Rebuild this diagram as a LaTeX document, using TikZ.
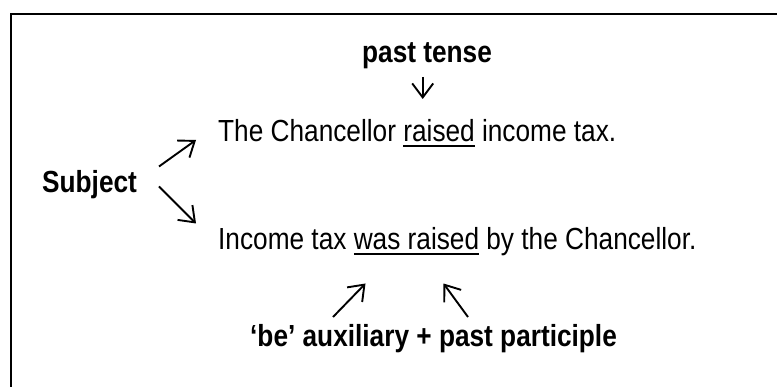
\documentclass[tikz,border=0pt]{standalone}
\usepackage{fontspec}
\setmainfont[FakeStretch=0.86]{Liberation Sans}
\usetikzlibrary{arrows.meta}
\newcommand\myul[1]{\setbox0\hbox{#1}\rlap{\rule[-5.2pt]{\wd0}{2.1pt}}\box0\relax}
\begin{document}
\begin{tikzpicture}[x=1pt,y=-1pt,
  txt/.style={inner sep=0pt,anchor=base west,font=\fontsize{30.5}{36}\selectfont},
  btxt/.style={txt,font=\fontsize{30.5}{36}\selectfont\bfseries},
  pointer/.style={line width=1.9pt,-{Straight Barb[length=14pt,width=21pt,line width=1.9pt]}}]
\useasboundingbox (0,0) rectangle (777,387);
\draw[line width=1.6pt] (10.7,387) -- (10.7,14) -- (777,14);
\node[btxt] (past) at (362,63) {past tense};
\node[btxt] (subj) at (42,193) {Subject};
\node[txt] (act) at (218,141.7) {The Chancellor \myul{raised} income tax.};
\node[txt] (pas) at (218,249.5) {Income tax \myul{was raised} by the Chancellor.};
\node[btxt] (aux) at (250,347) {‘be’ auxiliary + past participle};
\coordinate (p0) at (422.7,77);
\coordinate (p1) at (422.7,99);
\coordinate (s0) at (159,166.5);
\coordinate (s1) at (196,140);
\coordinate (t0) at (159,186.5);
\coordinate (t1) at (196,223.5);
\coordinate (a0) at (333,317);
\coordinate (a1) at (365.5,283.5);
\coordinate (b0) at (468,317);
\coordinate (b1) at (443.5,283.5);
\draw[pointer] (p0) -- (p1);
\draw[pointer] (s0) -- (s1);
\draw[pointer] (t0) -- (t1);
\draw[pointer] (a0) -- (a1);
\draw[pointer] (b0) -- (b1);
\end{tikzpicture}
\end{document}
